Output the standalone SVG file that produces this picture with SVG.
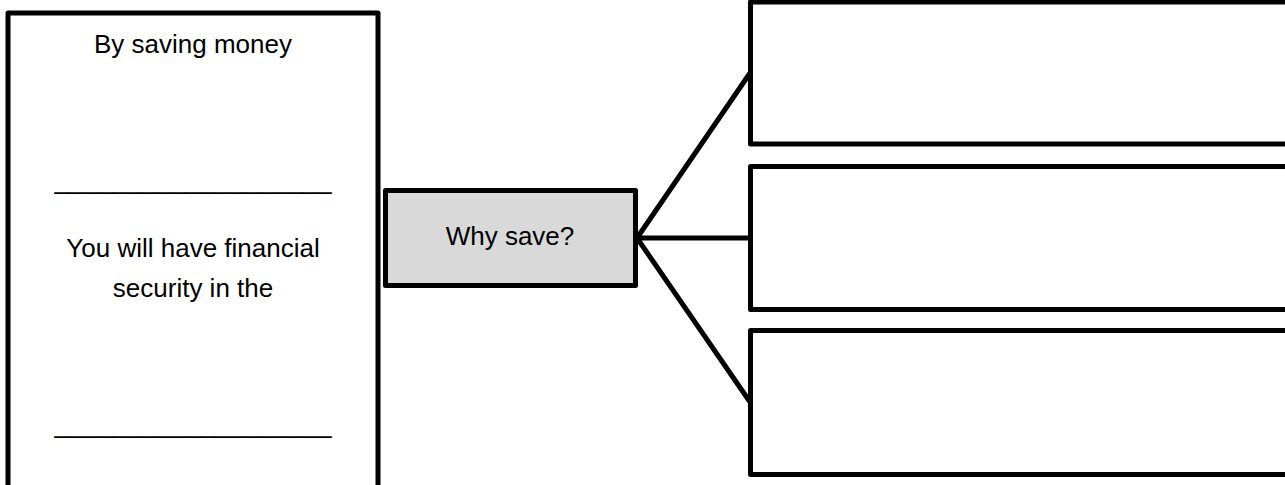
<svg xmlns="http://www.w3.org/2000/svg" width="1285" height="485" viewBox="0 0 1285 485">
<style>
.box{fill:#ffffff;stroke:#000000;stroke-width:5;stroke-linejoin:round}
.gray{fill:#d9d9d9;stroke:#000000;stroke-width:5;stroke-linejoin:round}
.conn{stroke:#000000;stroke-width:5;fill:none;stroke-linecap:round}
.t{font-family:"Liberation Sans",Arial,sans-serif;font-size:26px;fill:#000000;text-anchor:middle}
</style>
<rect x="0" y="0" width="1285" height="485" fill="#ffffff"/>
<g id="connectors">
<line class="conn" x1="637" y1="238" x2="750" y2="73"/>
<line class="conn" x1="637" y1="238" x2="750" y2="238"/>
<line class="conn" x1="637" y1="238" x2="750" y2="402"/>
</g>
<g id="left-box">
<rect class="box" x="8" y="13" width="370" height="480"/>
<text class="t" x="193" y="53">By saving money</text>
<text class="t" x="193" y="189" textLength="277" lengthAdjust="spacingAndGlyphs">___________________</text>
<text class="t" x="193" y="257">You will have financial</text>
<text class="t" x="193" y="297">security in the</text>
<text class="t" x="193" y="433" textLength="277" lengthAdjust="spacingAndGlyphs">___________________</text>
</g>
<g id="why-save">
<rect class="gray" x="385.5" y="190.5" width="250" height="95"/>
<text class="t" x="510" y="245">Why save?</text>
</g>
<g id="answer-1">
<rect class="box" x="750.5" y="2" width="560" height="142"/>
</g>
<g id="answer-2">
<rect class="box" x="750.5" y="166.5" width="560" height="143"/>
</g>
<g id="answer-3">
<rect class="box" x="750.5" y="330.5" width="560" height="144"/>
</g>
</svg>
